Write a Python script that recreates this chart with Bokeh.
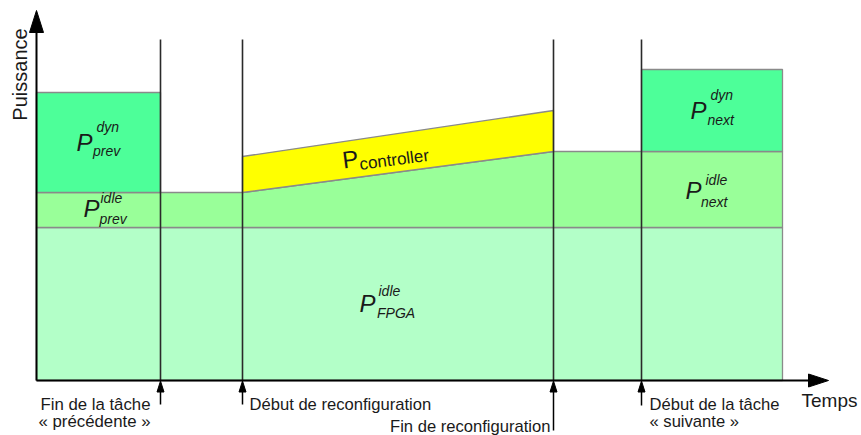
import math
from bokeh.plotting import figure
from bokeh.models import Range1d, Label
from bokeh.embed import file_html
from bokeh.resources import INLINE

# ---- data (arbitrary time / power units) ----
event_times = [12.4, 20.6, 51.7, 60.5]   # fin tâche préc., début reconf, fin reconf, début tâche suivante
t_end = 74.6
p_idle_fpga = 15.3
p_idle_prev = 3.5
p_dyn_prev = 10.0
p_idle_next = 7.6
p_ctrl = [3.6, 4.1]          # controller power at start / end of reconfiguration
p_dyn_next = 8.2
axis_x_end = 79.2
axis_y_end = 37.0

FONT = "Liberation Sans"
TXT = "#1a1a1a"
EDGE = "#8a8a8a"

p = figure(width=861, height=435, x_range=Range1d(-3.6, 82.5), y_range=Range1d(-5.5, 38.0),
           output_backend="svg", toolbar_location=None, x_axis_location=None, y_axis_location=None,
           min_border=0, outline_line_color=None, background_fill_color="white",
           border_fill_color="white")
p.grid.visible = False

t_prev, t_rs, t_re, t_next = event_times
lvl_prev = p_idle_fpga + p_idle_prev
lvl_next = p_idle_fpga + p_idle_next

# FPGA idle base
p.quad(left=[0], right=[t_end], bottom=[0], top=[p_idle_fpga],
       fill_color="#b3ffc8", line_color=EDGE, line_width=1.3)
# task idle power (prev -> linear growth -> next)
p.patch([0, t_rs, t_re, t_end, t_end, 0],
        [lvl_prev, lvl_prev, lvl_next, lvl_next, p_idle_fpga, p_idle_fpga],
        fill_color="#99ff99", line_color=EDGE, line_width=1.3)
# dynamic power prev / next
p.quad(left=[0, t_next], right=[t_prev, t_end], bottom=[lvl_prev, lvl_next],
       top=[lvl_prev + p_dyn_prev, lvl_next + p_dyn_next],
       fill_color="#4dff99", line_color=EDGE, line_width=1.3)
# controller
p.patch([t_rs, t_re, t_re, t_rs],
        [lvl_prev, lvl_next, lvl_next + p_ctrl[1], lvl_prev + p_ctrl[0]],
        fill_color="#ffff00", line_color=EDGE, line_width=1.3)

# vertical event lines
p.segment(x0=event_times, y0=[0] * 4, x1=event_times, y1=[34.1] * 4,
          line_color="#2a2a2a", line_width=1.6)

# axes
p.segment(x0=[0, 0], y0=[0, 0], x1=[0, axis_x_end - 2.0], y1=[axis_y_end - 2.2, 0],
          line_color="black", line_width=2)
p.patches([[-0.7, 0.7, 0], [axis_x_end - 2.0, axis_x_end - 2.0, axis_x_end]],
          [[axis_y_end - 2.2, axis_y_end - 2.2, axis_y_end], [0.65, -0.65, 0]],
          fill_color="black", line_color="black", line_width=1)

# small arrows under the time axis
arrow_bottoms = [-2.4, -2.4, -5.0, -2.5]
p.segment(x0=event_times, y0=arrow_bottoms, x1=event_times, y1=[-0.9] * 4,
          line_color="black", line_width=1.5)
p.patches([[t - 0.35, t + 0.35, t] for t in event_times],
          [[-1.15, -1.15, -0.05] for _ in event_times],
          fill_color="black", line_color="black", line_width=1)

SHIFT = 5.5  # px, compensates the alphabetic baseline placement


def X(px):
    return (px - 36) / 10.0


def Y(py):
    return (380 - py + SHIFT) / 10.0


def lab(x, y, text, size, style="normal", align="left", angle=0.0, baseline="alphabetic"):
    p.add_layout(Label(x=x, y=y, text=text, text_font=FONT, text_font_size=f"{size}px",
                       text_font_style=style, text_align=align, text_baseline=baseline,
                       angle=angle, text_color=TXT))


# axis titles
lab(X(19), (380 - 74) / 10.0, "Puissance", 20, angle=math.pi / 2, align="center", baseline="middle")
lab(X(801), Y(405), "Temps", 19)

# event labels
lab(t_prev - 1.0, Y(409), "Fin de la tâche", 16.8, align="right")
lab(t_prev - 1.0, Y(426.5), "« précédente »", 16.8, align="right")
lab(t_rs + 0.7, Y(409), "Début de reconfiguration", 16.6)
lab(t_re - 0.3, Y(431), "Fin de reconfiguration", 16.6, align="right")
lab(t_next + 0.8, Y(409), "Début de la tâche", 16.6)
lab(t_next + 0.8, Y(426.5), "« suivante »", 16.6)


def power_label(P, sup, sub, sub_text, sup_text):
    lab(X(P[0]), Y(P[1]), "P", 24, style="italic")
    lab(X(sup[0]), Y(sup[1]), sup_text, 14, style="italic")
    lab(X(sub[0]), Y(sub[1]), sub_text, 14, style="italic")


power_label((76, 147), (96, 131.5), (92.5, 156), "prev", "dyn")
power_label((83, 213), (100, 203), (99, 224), "prev", "idle")
power_label((690, 115), (710, 100), (707, 125), "next", "dyn")
power_label((685, 195), (705, 185), (700.5, 206.5), "next", "idle")
power_label((359, 308), (378, 296), (376.5, 318.3), "FPGA", "idle")

# controller label, following the slope of the band
slope = math.atan2(lvl_next - lvl_prev, t_re - t_rs)
lab(X(342), Y(165), "P", 24, angle=slope)
lab(X(359), Y(169.5), "controller", 17, angle=slope)

open("out.html", "w").write(file_html(p, INLINE))
